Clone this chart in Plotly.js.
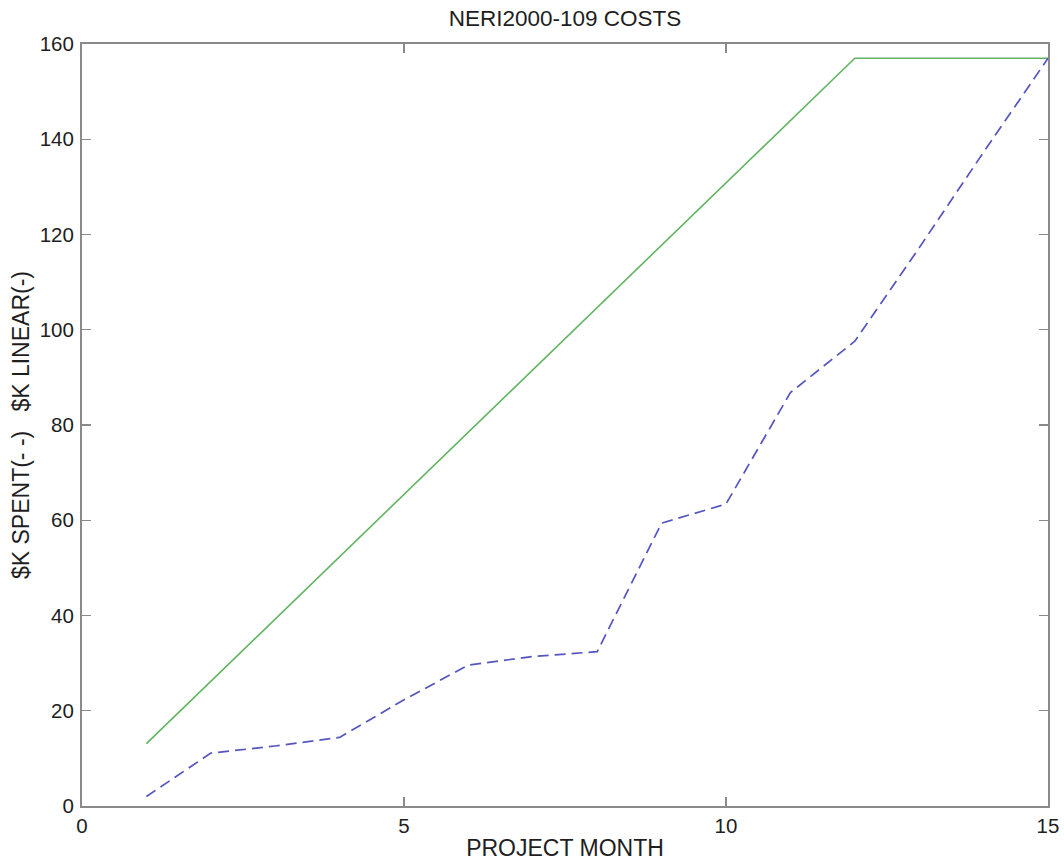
<!DOCTYPE html>
<html>
<head>
<meta charset="utf-8">
<script src="https://cdn.plot.ly/plotly-3.0.1.min.js"></script>
<style>
  html, body { margin: 0; padding: 0; background: #ffffff; }
  #chart { width: 1064px; height: 865px; }
</style>
</head>
<body>
<div id="chart"></div>
<script>
// Project months 1..15
const months = [1, 2, 3, 4, 5, 6, 7, 8, 9, 10, 11, 12, 13, 14, 15];

// Planned (linear) spend in $K
const linearSpend = [13.1, 26.2, 39.3, 52.3, 65.4, 78.5, 91.6, 104.7, 117.8, 130.8, 143.9, 157, 157, 157, 157];

// Actual cumulative spend in $K
const actualSpend = [2.0, 11.1, 12.6, 14.4, 22.3, 29.6, 31.4, 32.4, 59.4, 63.4, 86.8, 97.6, 117.2, 137.3, 157];

const xTicks = [0, 5, 10, 15];
const yTicks = [0, 20, 40, 60, 80, 100, 120, 140, 160];

const FONT = '"Liberation Sans", Arial, Helvetica, sans-serif';
const TEXT = '#1e1e1e';
const AXIS = '#8a8a8a';

const traces = [
  {
    x: months,
    y: linearSpend,
    type: 'scatter',
    mode: 'lines',
    line: { color: '#62b462', width: 1.6 },
    hoverinfo: 'x+y'
  },
  {
    x: months,
    y: actualSpend,
    type: 'scatter',
    mode: 'lines',
    line: { color: '#5555c0', width: 1.7, dash: '11px,6px' },
    hoverinfo: 'x+y'
  }
];

// gap between the two parts of the y-axis label
const sp = '\u00a0\u00a0\u00a0';

const layout = {
  width: 1064,
  height: 865,
  margin: { l: 82, r: 16, t: 44, b: 59 },
  paper_bgcolor: '#ffffff',
  plot_bgcolor: '#ffffff',
  showlegend: false,
  font: { family: FONT, color: TEXT, size: 20 },
  title: {
    text: 'NERI2000-109 COSTS',
    font: { family: FONT, size: 22.5, color: TEXT },
    xref: 'paper',
    x: 0.5,
    xanchor: 'center',
    y: 0.979,
    yanchor: 'middle'
  },
  xaxis: {
    range: [0, 15],
    tickvals: xTicks,
    ticktext: xTicks.map(String),
    ticks: 'inside',
    ticklen: 9,
    tickwidth: 1.2,
    tickcolor: AXIS,
    showline: true,
    linecolor: AXIS,
    linewidth: 2,
    mirror: 'ticks',
    showgrid: false,
    zeroline: false,
    tickfont: { family: FONT, size: 20.5, color: TEXT },
    ticklabelstandoff: 0,
    title: {
      text: 'PROJECT MONTH',
      font: { family: FONT, size: 23, color: TEXT },
      standoff: 4
    }
  },
  yaxis: {
    range: [0, 160],
    tickvals: yTicks,
    ticktext: yTicks.map(String),
    ticks: 'inside',
    ticklen: 9,
    tickwidth: 1.2,
    tickcolor: AXIS,
    showline: true,
    linecolor: AXIS,
    linewidth: 2,
    mirror: 'ticks',
    showgrid: false,
    zeroline: false,
    tickfont: { family: FONT, size: 20.5, color: TEXT },
    ticklabelstandoff: 2,
    title: {
      text: '$K SPENT(- -)' + sp + '$K LINEAR(-)',
      font: { family: FONT, size: 23, color: TEXT },
      standoff: 4
    }
  }
};

Plotly.newPlot('chart', traces, layout, { displayModeBar: false, staticPlot: true });
</script>
</body>
</html>
